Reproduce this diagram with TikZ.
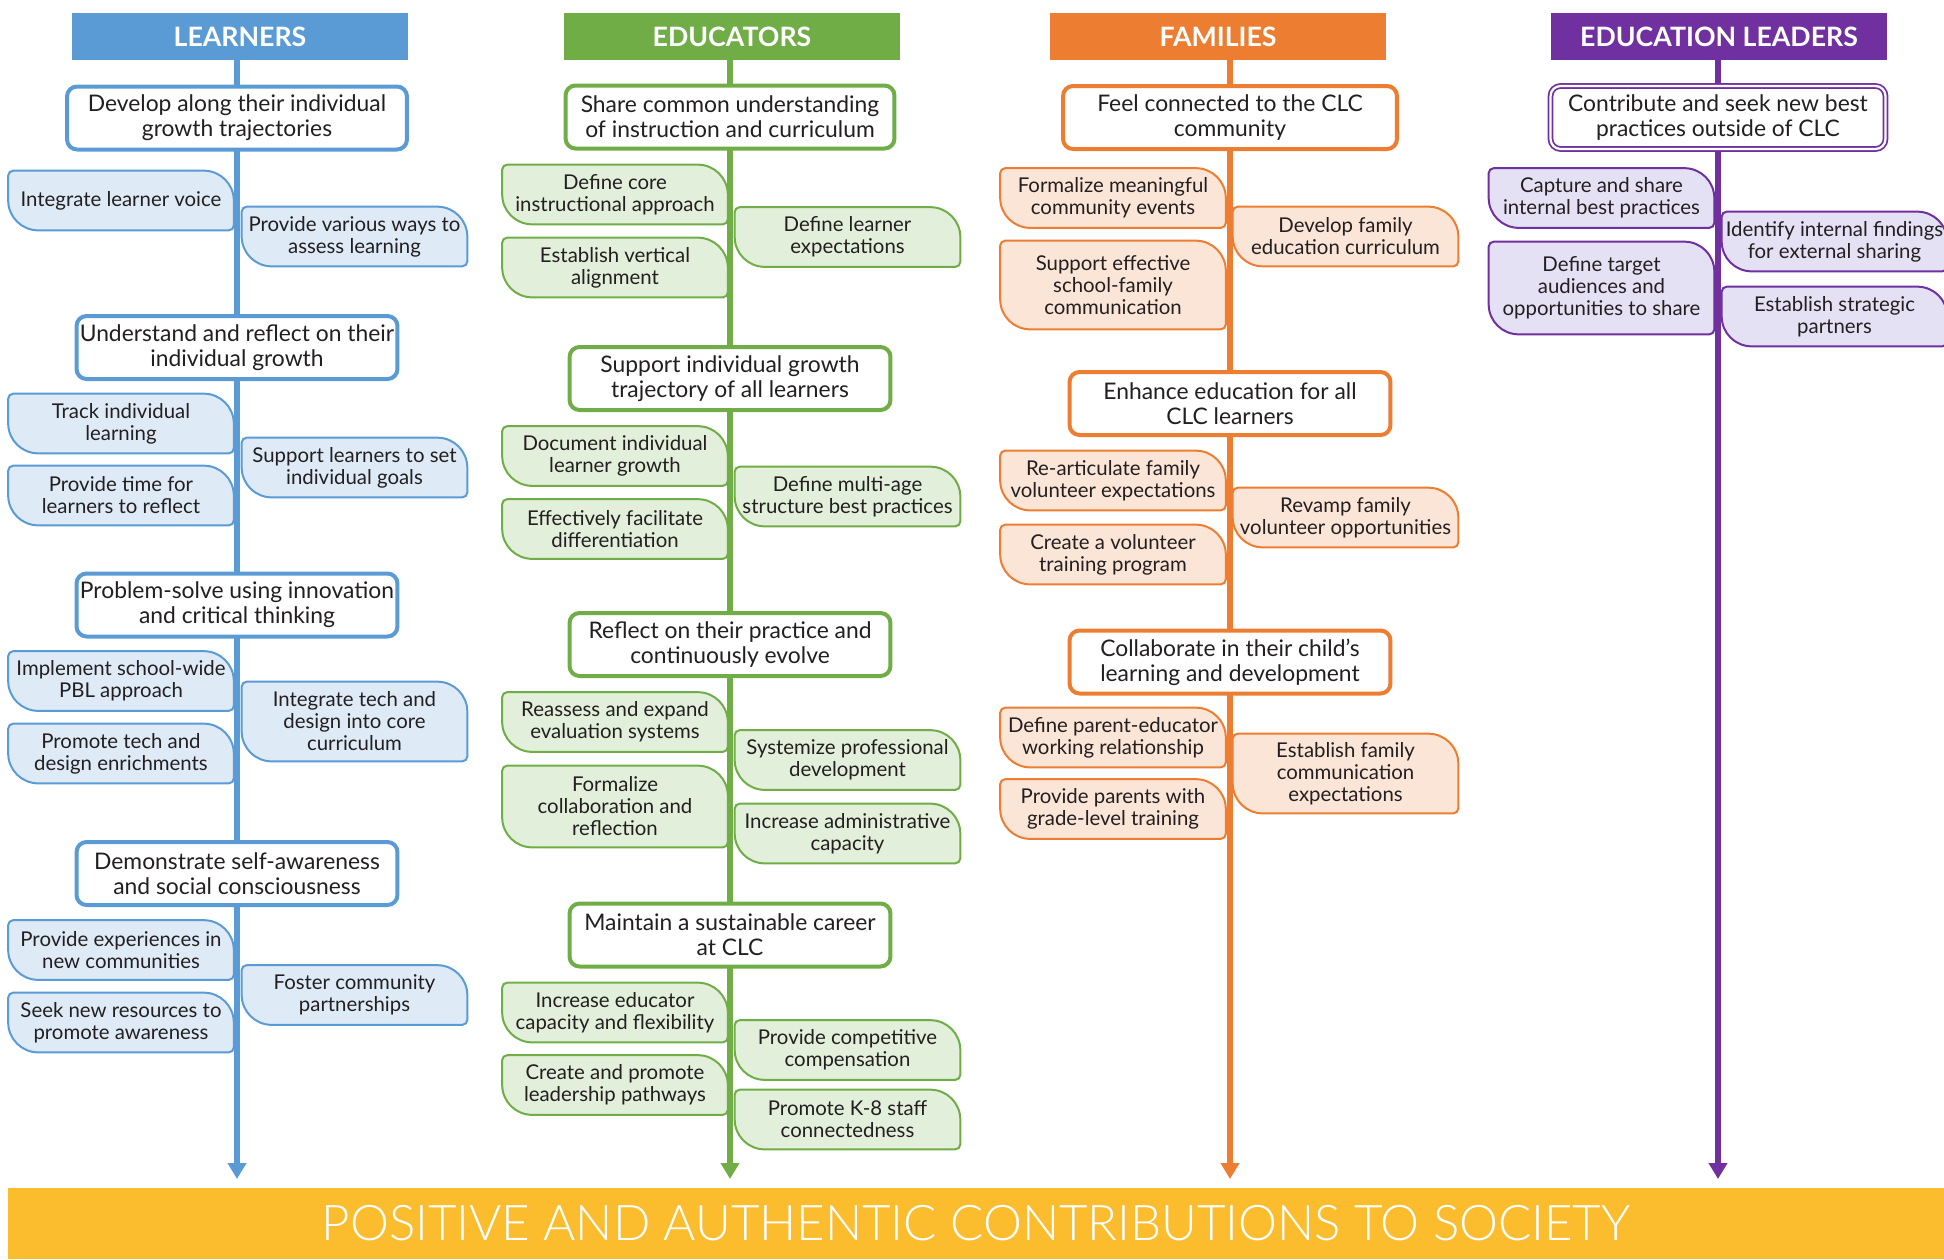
\documentclass[tikz,border=0pt]{standalone}
\usepackage{fontspec}
\setmainfont{Lato}
\newfontfamily\bandfont{Lato Light}
\usetikzlibrary{arrows.meta, backgrounds}

\definecolor{lblue}{HTML}{5B9BD5}
\definecolor{lbluefill}{HTML}{DEEBF7}
\definecolor{egreen}{HTML}{70AD47}
\definecolor{egreenfill}{HTML}{E2EFDA}
\definecolor{forange}{HTML}{ED7D31}
\definecolor{forangefill}{HTML}{FBE5D6}
\definecolor{dpurple}{HTML}{7030A0}
\definecolor{dpurplefill}{HTML}{E3E1F3}
\definecolor{bandgold}{HTML}{FBBD2E}
\definecolor{inktext}{HTML}{231F20}

\tikzset{
  head/.style={fill=#1, text=white, minimum width=6.74cm, minimum height=0.94cm, inner sep=0pt, font=\fontsize{15.2}{16}\selectfont\bfseries},
  goal/.style={draw=#1, fill=white, line width=0.08cm, rounded corners=0.2cm, minimum width=6.42cm, minimum height=1.26cm, inner sep=0pt, align=center, text=inktext, font=\fontsize{13}{14.2}\selectfont},
  leaf/.style={minimum width=4.5cm, minimum height=1.18cm, inner sep=0pt, align=center, text=inktext, font=\fontsize{11.6}{12.5}\selectfont},
  leaf shape/.style={insert path={([xshift=0.1cm]#1.north west) -- ([xshift=-0.6cm]#1.north east) arc[start angle=90, end angle=0, radius=0.6cm] -- ([yshift=0.1cm]#1.south east) arc[start angle=0, end angle=-90, radius=0.1cm] -- ([xshift=0.6cm]#1.south west) arc[start angle=270, end angle=180, radius=0.6cm] -- ([yshift=-0.1cm]#1.north west) arc[start angle=180, end angle=90, radius=0.1cm] -- cycle}},
  stem/.style={draw=#1, line width=0.12cm, -{Triangle[length=0.32cm, width=0.36cm]}},
}

\begin{document}
\begin{tikzpicture}[x=0.02cm, y=-0.02cm]
\useasboundingbox (0,0) rectangle (1944,1259);

% column heads
\node[head=lblue] (lh) at (240,36.5) {LEARNERS};
\node[head=egreen] (eh) at (732,36.5) {EDUCATORS};
\node[head=forange] (fh) at (1218,36.5) {FAMILIES};
\node[head=dpurple] (dh) at (1719,36.5) {EDUCATION LEADERS};

\coordinate (lend) at (237,1179);
\coordinate (eend) at (730,1179);
\coordinate (fend) at (1230,1179);
\coordinate (dend) at (1718,1179);

% learners
\node[goal=lblue, minimum width=6.8cm] (lg1) at (237,118) {Develop along their individual\\growth trajectories};
\node[leaf] (l1) at (121,200.5) {Integrate learner voice};
\node[leaf] (l2) at (354.5,236.5) {Provide various ways to\\assess learning};
\node[goal=lblue] (lg2) at (237,347.5) {Understand and reflect on their\\individual growth};
\node[leaf] (l3) at (121,423.5) {Track individual\\learning};
\node[leaf] (l4) at (354.5,467.5) {Support learners to set\\individual goals};
\node[leaf] (l5) at (121,495.5) {Provide time for\\learners to reflect};
\node[goal=lblue] (lg3) at (237,605) {Problem-solve using innovation\\and critical thinking};
\node[leaf] (l6) at (121,681) {Implement school-wide\\PBL approach};
\node[leaf, minimum height=1.58cm] (l7) at (354.5,721.5) {Integrate tech and\\design into core\\curriculum};
\node[leaf] (l8) at (121,753.5) {Promote tech and\\design enrichments};
\node[goal=lblue] (lg4) at (237,873.5) {Demonstrate self-awareness\\and social consciousness};
\node[leaf] (l9) at (121,950) {Provide experiences in\\new communities};
\node[leaf] (l10) at (354.5,995) {Foster community\\partnerships};
\node[leaf] (l11) at (121,1022.5) {Seek new resources to\\promote awareness};

% educators
\node[goal=egreen, minimum width=6.58cm] (eg1) at (730,117) {Share common understanding\\of instruction and curriculum};
\node[leaf] (e1) at (615,194.5) {Define core\\instructional approach};
\node[leaf] (e2) at (615,267.5) {Establish vertical\\alignment};
\node[leaf] (e3) at (847.5,237) {Define learner\\expectations};
\node[goal=egreen] (eg2) at (730,378.5) {Support individual growth\\trajectory of all learners};
\node[leaf] (e4) at (615,456) {Document individual\\learner growth};
\node[leaf] (e5) at (847.5,496.5) {Define multi-age\\structure best practices};
\node[leaf] (e6) at (615,529) {Effectively facilitate\\differentiation};
\node[goal=egreen] (eg3) at (730,644.5) {Reflect on their practice and\\continuously evolve};
\node[leaf] (e7) at (615,722) {Reassess and expand\\evaluation systems};
\node[leaf] (e8) at (847.5,760) {Systemize professional\\development};
\node[leaf, minimum height=1.62cm] (e9) at (615,806.5) {Formalize\\collaboration and\\reflection};
\node[leaf] (e10) at (847.5,833.5) {Increase administrative\\capacity};
\node[goal=egreen] (eg4) at (730,935) {Maintain a sustainable career\\at CLC};
\node[leaf] (e11) at (615,1012.5) {Increase educator\\capacity and flexibility};
\node[leaf] (e12) at (847.5,1050) {Provide competitive\\compensation};
\node[leaf] (e13) at (615,1085) {Create and promote\\leadership pathways};
\node[leaf] (e14) at (847.5,1119.5) {Promote K-8 staff\\connectedness};

% families
\node[goal=forange, minimum width=6.68cm] (fg1) at (1230,117.5) {Feel connected to the CLC\\community};
\node[leaf] (f1) at (1113,198) {Formalize meaningful\\community events};
\node[leaf, minimum height=1.76cm] (f2) at (1113,285) {Support effective\\school-family\\communication};
\node[leaf] (f3) at (1345.5,236.5) {Develop family\\education curriculum};
\node[goal=forange] (fg2) at (1230,403.5) {Enhance education for all\\CLC learners};
\node[leaf] (f4) at (1113,480.5) {Re-articulate family\\volunteer expectations};
\node[leaf] (f5) at (1345.5,517.5) {Revamp family\\volunteer opportunities};
\node[leaf] (f6) at (1113,554.5) {Create a volunteer\\training program};
\node[goal=forange] (fg3) at (1230,662) {Collaborate in their child’s\\learning and development};
\node[leaf] (f7) at (1113,737.5) {Define parent-educator\\working relationship};
\node[leaf, minimum height=1.58cm] (f8) at (1345.5,773.5) {Establish family\\communication\\expectations};
\node[leaf] (f9) at (1113,809) {Provide parents with\\grade-level training};

% education leaders
\node[goal=dpurple, minimum width=6.7cm, line width=0.035cm, double=white, double distance=0.045cm] (dg1) at (1718,117.5) {Contribute and seek new best\\practices outside of CLC};
\node[leaf] (d1) at (1601.5,198) {Capture and share\\internal best practices};
\node[leaf, minimum height=1.84cm] (d2) at (1601.5,288) {Define target\\audiences and\\opportunities to share};
\node[leaf] (d3) at (1834.5,241.5) {Identify internal findings\\for external sharing};
\node[leaf] (d4) at (1834.5,316.5) {Establish strategic\\partners};

\begin{scope}[on background layer]
\draw[stem=lblue] (lh.south -| lend) -- (lend);
\draw[stem=egreen] (eh.south -| eend) -- (eend);
\draw[stem=forange] (fh.south -| fend) -- (fend);
\draw[stem=dpurple] (dh.south -| dend) -- (dend);
\foreach \i in {1,...,11} \draw[draw=lblue, fill=lbluefill, line width=0.04cm, leaf shape=l\i];
\foreach \i in {1,...,14} \draw[draw=egreen, fill=egreenfill, line width=0.04cm, leaf shape=e\i];
\foreach \i in {1,...,9} \draw[draw=forange, fill=forangefill, line width=0.04cm, leaf shape=f\i];
\foreach \i in {1,...,4} \draw[draw=dpurple, fill=dpurplefill, line width=0.04cm, leaf shape=d\i];
\end{scope}

% bottom band
\node[fill=bandgold, minimum width=38.72cm, minimum height=1.42cm, inner sep=0pt, text=white, font=\bandfont\fontsize{28}{29}\selectfont] (band) at (976,1223.5) {POSITIVE AND AUTHENTIC CONTRIBUTIONS TO SOCIETY};
\end{tikzpicture}
\end{document}
